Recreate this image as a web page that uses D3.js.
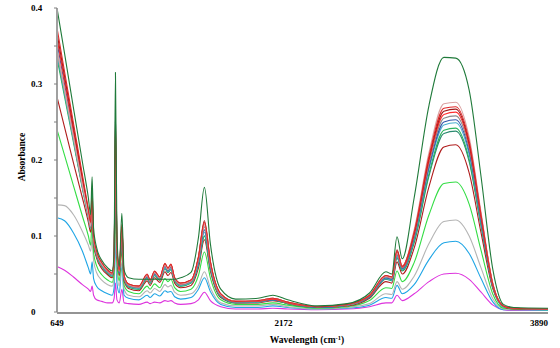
<!DOCTYPE html>
<html>
<head>
<meta charset="utf-8">
<script src="https://cdn.jsdelivr.net/npm/d3@7"></script>
<style>
  body { margin: 0; background: #fff; }
  text { font-family: "Liberation Serif", "Times New Roman", serif; font-weight: bold; }
</style>
</head>
<body>
<div id="chart"></div>
<script>
// wavenumber grid (cm-1) shared by all spectra
var wavenumbers = [649, 700, 760, 820, 860, 875, 885, 895, 915, 950, 990, 1020, 1033, 1042, 1052, 1068, 1085, 1100, 1130, 1200,
  1255, 1275, 1305, 1340, 1375, 1395, 1415, 1440, 1480, 1550, 1600, 1640, 1680, 1750, 1850, 2000, 2100, 2200, 2400, 2600,
  2750, 2860, 2900, 2935, 2970, 3050, 3150, 3250, 3330, 3420, 3500, 3580, 3650, 3720, 3950];

var xTicks = [649, 2172, 3890];
var yTicks = [0, 0.1, 0.2, 0.3, 0.4];
var yMinor = [0.05, 0.15, 0.25, 0.35];

// absorbance of each sample
var darkGreen = [.400, .340, .268, .197, .150, .128, .178, .110, .085, .068, .058, .054, .080, .315, .100, .060, .130, .055, .045, .043,
  .043, .043, .043, .043, .043, .043, .043, .043, .045, .052, .098, .164, .090, .030, .017, .018, .022, .016, .008, .011,
  .025, .053, .050, .099, .070, .150, .272, .335, .334, .292, .178, .055, .010, .006, .005];
var pinkGray = [.345, .292, .230, .167, .128, .113, .142, .097, .078, .063, .054, .050, .070, .240, .086, .054, .110, .047, .036, .033,
  .048, .041, .052, .045, .062, .056, .061, .044, .037, .041, .070, .115, .064, .023, .014, .015, .018, .013, .007, .010,
  .022, .047, .045, .078, .060, .108, .210, .274, .276, .230, .131, .037, .008, .005, .004];
var red = [.374, .316, .248, .180, .135, .118, .150, .100, .080, .065, .055, .051, .072, .260, .088, .055, .115, .048, .037, .034,
  .050, .042, .054, .046, .064, .058, .063, .045, .038, .042, .072, .118, .066, .024, .014, .015, .018, .013, .007, .010,
  .022, .048, .046, .080, .060, .105, .205, .268, .270, .225, .128, .036, .008, .005, .004];
var darkRed = [.367, .310, .243, .176, .133, .116, .146, .099, .079, .064, .055, .051, .071, .250, .087, .055, .112, .048, .037, .034,
  .049, .042, .053, .046, .063, .057, .062, .045, .038, .042, .073, .120, .067, .024, .014, .015, .018, .013, .007, .010,
  .022, .048, .046, .082, .060, .104, .202, .264, .267, .222, .127, .036, .008, .005, .004];
var brightRed = [.360, .304, .238, .172, .130, .114, .140, .097, .078, .063, .054, .050, .070, .230, .085, .054, .110, .047, .036, .033,
  .049, .041, .053, .045, .063, .057, .062, .044, .037, .041, .071, .116, .065, .023, .014, .014, .017, .012, .007, .010,
  .021, .047, .045, .079, .059, .102, .199, .260, .263, .219, .125, .035, .008, .005, .004];
var gray = [.345, .292, .229, .165, .126, .111, .135, .095, .076, .062, .053, .049, .068, .220, .083, .053, .105, .046, .035, .032,
  .047, .040, .051, .044, .061, .055, .060, .043, .036, .040, .068, .112, .063, .022, .013, .014, .017, .012, .007, .009,
  .021, .046, .044, .076, .058, .100, .195, .255, .258, .215, .123, .035, .008, .005, .004];
var blue = [.355, .300, .235, .170, .128, .112, .135, .095, .076, .062, .053, .049, .068, .220, .083, .052, .100, .045, .035, .032,
  .046, .040, .050, .044, .060, .054, .059, .043, .036, .040, .066, .108, .061, .022, .013, .014, .016, .012, .006, .009,
  .020, .045, .043, .075, .057, .098, .191, .250, .253, .211, .120, .034, .008, .005, .004];
var teal = [.340, .288, .226, .164, .125, .110, .132, .094, .075, .061, .052, .048, .075, .262, .085, .052, .100, .045, .034, .031,
  .045, .039, .049, .043, .058, .053, .057, .042, .035, .039, .064, .105, .060, .021, .013, .013, .016, .012, .006, .009,
  .020, .044, .042, .073, .056, .096, .188, .246, .249, .207, .118, .033, .007, .005, .004];
var green = [.334, .283, .223, .162, .124, .110, .165, .094, .074, .060, .051, .047, .070, .240, .084, .051, .105, .044, .033, .030,
  .044, .038, .048, .042, .057, .052, .056, .041, .034, .038, .062, .100, .058, .021, .013, .013, .016, .011, .006, .009,
  .020, .044, .042, .072, .055, .093, .182, .239, .242, .201, .115, .033, .007, .005, .004];
var darkTeal = [.338, .287, .226, .164, .127, .112, .160, .095, .075, .060, .051, .047, .066, .210, .080, .051, .100, .044, .033, .030,
  .044, .038, .048, .042, .057, .052, .056, .041, .034, .038, .062, .100, .057, .020, .012, .013, .016, .011, .006, .009,
  .019, .043, .041, .071, .054, .091, .179, .235, .238, .198, .113, .032, .007, .005, .004];
var darkRed2 = [.283, .243, .196, .150, .118, .105, .125, .089, .071, .057, .049, .045, .062, .190, .076, .048, .090, .041, .031, .028,
  .041, .035, .045, .039, .053, .048, .052, .038, .032, .035, .058, .095, .054, .019, .012, .012, .015, .011, .006, .008,
  .018, .040, .038, .066, .050, .084, .165, .217, .220, .183, .104, .030, .007, .004, .004];
var lightGreen = [.240, .206, .166, .126, .100, .088, .120, .078, .061, .049, .042, .039, .052, .160, .064, .041, .080, .035, .027, .024,
  .034, .030, .037, .032, .044, .040, .043, .032, .027, .030, .048, .079, .045, .016, .010, .010, .012, .009, .005, .007,
  .015, .032, .031, .054, .040, .065, .128, .169, .171, .142, .081, .023, .005, .004, .003];
var lightGray = [.141, .140, .128, .106, .088, .080, .095, .068, .052, .042, .036, .034, .044, .120, .052, .034, .065, .030, .022, .020,
  .028, .025, .031, .027, .036, .033, .035, .026, .022, .024, .035, .053, .032, .012, .008, .008, .010, .007, .004, .006,
  .011, .024, .023, .040, .030, .047, .090, .119, .121, .100, .058, .017, .004, .003, .003];
var lightBlue = [.124, .120, .104, .080, .058, .050, .066, .044, .034, .028, .024, .022, .032, .099, .038, .025, .060, .022, .018, .016,
  .022, .019, .024, .021, .028, .026, .027, .020, .017, .019, .030, .045, .027, .010, .006, .006, .008, .006, .004, .005,
  .009, .019, .018, .035, .024, .036, .069, .091, .093, .077, .044, .013, .003, .003, .002];
var magenta = [.060, .055, .046, .036, .030, .027, .034, .022, .016, .014, .012, .012, .018, .038, .016, .012, .030, .012, .011, .010,
  .013, .011, .013, .012, .015, .014, .015, .012, .010, .011, .016, .026, .015, .007, .004, .004, .005, .004, .003, .004,
  .007, .012, .012, .022, .015, .024, .040, .050, .051, .043, .026, .009, .003, .002, .002];

// drawn bottom to top
var spectra = [
  { values: magenta, color: "#dd33dd" },
  { values: lightBlue, color: "#1fa5e5" },
  { values: lightGray, color: "#b4b4b4" },
  { values: lightGreen, color: "#33dd44" },
  { values: darkRed2, color: "#b01c1c" },
  { values: darkTeal, color: "#2a8a6e" },
  { values: green, color: "#2db35d" },
  { values: teal, color: "#4aaed0" },
  { values: blue, color: "#3355aa" },
  { values: gray, color: "#8a8a8a" },
  { values: brightRed, color: "#ff3030" },
  { values: darkRed, color: "#9e1a1a" },
  { values: pinkGray, color: "#dba3a3" },
  { values: red, color: "#e02828" },
  { values: darkGreen, color: "#1f7a3a" }
];

var width = 560, height = 348;

var svg = d3.select("#chart").append("svg")
  .attr("width", width)
  .attr("height", height);

var x = d3.scaleLinear().domain([649, 3950]).range([57, 548]);
var y = d3.scaleLinear().domain([0, 0.4]).range([312, 8]);

var line = d3.line()
  .x(function (d, i) { return x(wavenumbers[i]); })
  .y(function (d) { return y(d); })
  .curve(d3.curveMonotoneX);

svg.selectAll("path.spec")
  .data(spectra)
  .enter()
  .append("path")
  .attr("class", "spec")
  .attr("fill", "none")
  .attr("stroke", function (d) { return d.color; })
  .attr("stroke-width", 1.1)
  .attr("d", function (d) { return line(d.values); });

// y axis
svg.append("line")
  .attr("x1", x(649)).attr("x2", x(649))
  .attr("y1", y(0.4)).attr("y2", y(0))
  .attr("stroke", "#a0a0a0").attr("stroke-width", 2);

svg.selectAll("line.ytick")
  .data(yTicks.concat(yMinor))
  .enter()
  .append("line")
  .attr("class", "ytick")
  .attr("x1", 54).attr("x2", 57)
  .attr("y1", function (d) { return y(d); })
  .attr("y2", function (d) { return y(d); })
  .attr("stroke", "#808080");

svg.selectAll("text.ylab")
  .data(yTicks)
  .enter()
  .append("text")
  .attr("class", "ylab")
  .attr("x", 31)
  .attr("y", function (d) { return y(d) + 3; })
  .attr("font-size", 9)
  .text(function (d) { return d === 0 ? "0" : d3.format(".1f")(d); });

// x axis
svg.append("line")
  .attr("x1", x(649)).attr("x2", 548)
  .attr("y1", y(0) + 1).attr("y2", y(0) + 1)
  .attr("stroke", "#707070").attr("stroke-width", 1.5);

svg.selectAll("text.xlab")
  .data(xTicks)
  .enter()
  .append("text")
  .attr("class", "xlab")
  .attr("x", function (d) { return x(d); })
  .attr("y", 326)
  .attr("text-anchor", "middle")
  .attr("font-size", 9)
  .text(function (d) { return d; });

// titles
var xt = svg.append("text")
  .attr("x", 307)
  .attr("y", 343)
  .attr("text-anchor", "middle")
  .attr("font-size", 9.5);
xt.append("tspan").text("Wavelength (cm");
xt.append("tspan").attr("dy", -3).attr("font-size", 6.5).text("-1");
xt.append("tspan").attr("dy", 3).text(")");

svg.append("text")
  .attr("transform", "translate(25,157) rotate(-90)")
  .attr("text-anchor", "middle")
  .attr("font-size", 9.5)
  .text("Absorbance");
</script>
</body>
</html>
